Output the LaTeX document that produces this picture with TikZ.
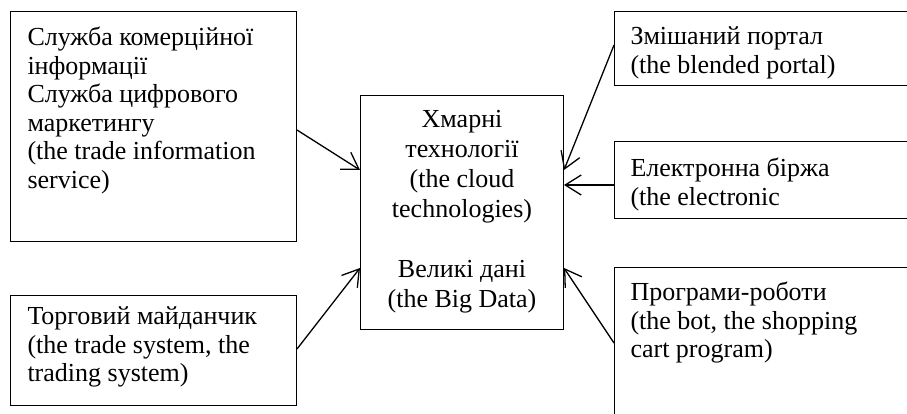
\documentclass[tikz,border=0pt]{standalone}
\usepackage{fontspec}
\setmainfont{Liberation Serif}
\usepackage{tikz}
\usetikzlibrary{arrows.meta}
\newcommand{\lefttext}[2]{\parbox[t]{#1}{\raggedright #2}}
\newcommand{\midtext}[2]{\parbox[t]{#1}{\centering #2}}
\tikzset{
		cell/.style={draw, line width=1pt, anchor=north west, inner xsep=17pt, inner ysep=0pt,
			font=\fontsize{26}{28.6}\selectfont},
		hubcell/.style={cell, inner xsep=0pt, font=\fontsize{26}{30}\selectfont},
		link/.style={->, line width=1.3pt}
	}

\begin{document}
\begin{tikzpicture}[x=1pt, y=-1pt, >={Straight Barb[length=16pt,width=20pt]}]
				\useasboundingbox (0,0) rectangle (907,414);
				\clip (0,0) rectangle (907,414);
				% left side
				\node[cell, text height=34pt, text depth=196pt] (svc) at (10,11)
					{\lefttext{252pt}{Служба комерційної\\інформації\\Служба цифрового\\маркетингу\\(the trade information\\service)}};
				\node[cell, text height=29pt, text depth=81pt] (trade) at (10,295)
					{\lefttext{252pt}{Торговий майданчик\\(the trade system, the\\trading system)}};
				% middle
				\node[hubcell, text height=32pt, text depth=202pt] (hub) at (360,95)
					{\midtext{203pt}{Хмарні\\технології\\(the cloud\\technologies)\\[30pt]Великі дані\\(the Big Data)}};
				% right side (cut off at the page edge)
				\node[cell, inner xsep=16pt, text height=33pt, text depth=41pt] (portal) at (614,11)
					{\lefttext{288pt}{Змішаний портал\\(the blended portal)}};
				\node[cell, inner xsep=16pt, text height=35pt, text depth=42pt] (exch) at (614,141)
					{\lefttext{288pt}{Електронна біржа\\(the electronic}};
				\node[cell, inner xsep=16pt, text height=33pt, text depth=137pt] (bots) at (614,267)
					{\lefttext{288pt}{Програми-роботи\\(the bot, the shopping\\cart program)}};
				% arrows into the hub
				\draw[link] (svc.east |- 0,130) -- (hub.west |- 0,170);
				\draw[link] (trade.east |- 0,349) -- (hub.west |- 0,268);
				\draw[link] (portal.west |- 0,45) -- (hub.east |- 0,170);
				\draw[link] (exch.west |- 0,185) -- (hub.east |- 0,185);
				\draw[link] (bots.west |- 0,343) -- (hub.east |- 0,268);
			\end{tikzpicture}
\end{document}
